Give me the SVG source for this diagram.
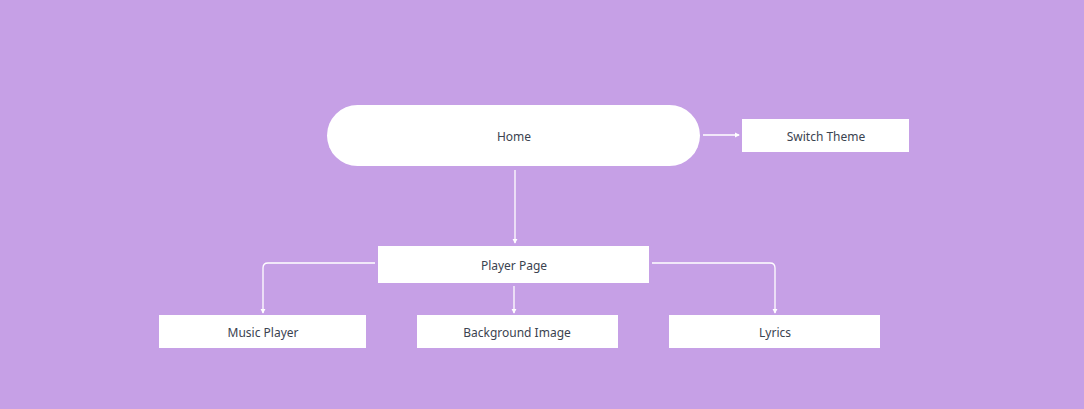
<svg xmlns="http://www.w3.org/2000/svg" width="1084" height="409" viewBox="0 0 1084 409">
<style>
.n{fill:#fff}
.t{font-family:"Noto Sans","Liberation Sans",sans-serif;font-size:12px;fill:#3b4350;text-anchor:middle;dominant-baseline:central}
.c{fill:none;stroke:#fff;stroke-width:1.3}
</style>
<defs>
<marker id="a" viewBox="0 0 6 6" refX="5" refY="3" markerWidth="4" markerHeight="4" orient="auto"><path d="M0,0L6,3L0,6z" fill="#fff"/></marker>
</defs>
<rect width="1084" height="409" fill="#c6a0e6"/>
<g id="connectors">
<path class="c" d="M703,135H739" marker-end="url(#a)"/>
<path class="c" d="M515,170V243" marker-end="url(#a)"/>
<path class="c" d="M375,263H268Q263,263 263,268V313" marker-end="url(#a)"/>
<path class="c" d="M514,286V313" marker-end="url(#a)"/>
<path class="c" d="M652,263H770Q775,263 775,268V313" marker-end="url(#a)"/>
</g>
<g id="home"><rect class="n" x="327" y="105" width="373" height="61" rx="30.5"/><text class="t" x="514" y="136">Home</text></g>
<g id="switch-theme"><rect class="n" x="742" y="119" width="167" height="33"/><text class="t" x="826" y="136">Switch Theme</text></g>
<g id="player-page"><rect class="n" x="378" y="246" width="271" height="37"/><text class="t" x="514" y="265">Player Page</text></g>
<g id="music-player"><rect class="n" x="159" y="315" width="207" height="33"/><text class="t" x="263" y="332">Music Player</text></g>
<g id="background-image"><rect class="n" x="417" y="315" width="201" height="33"/><text class="t" x="517" y="332">Background Image</text></g>
<g id="lyrics"><rect class="n" x="669" y="315" width="211" height="33"/><text class="t" x="775" y="332">Lyrics</text></g>
</svg>
